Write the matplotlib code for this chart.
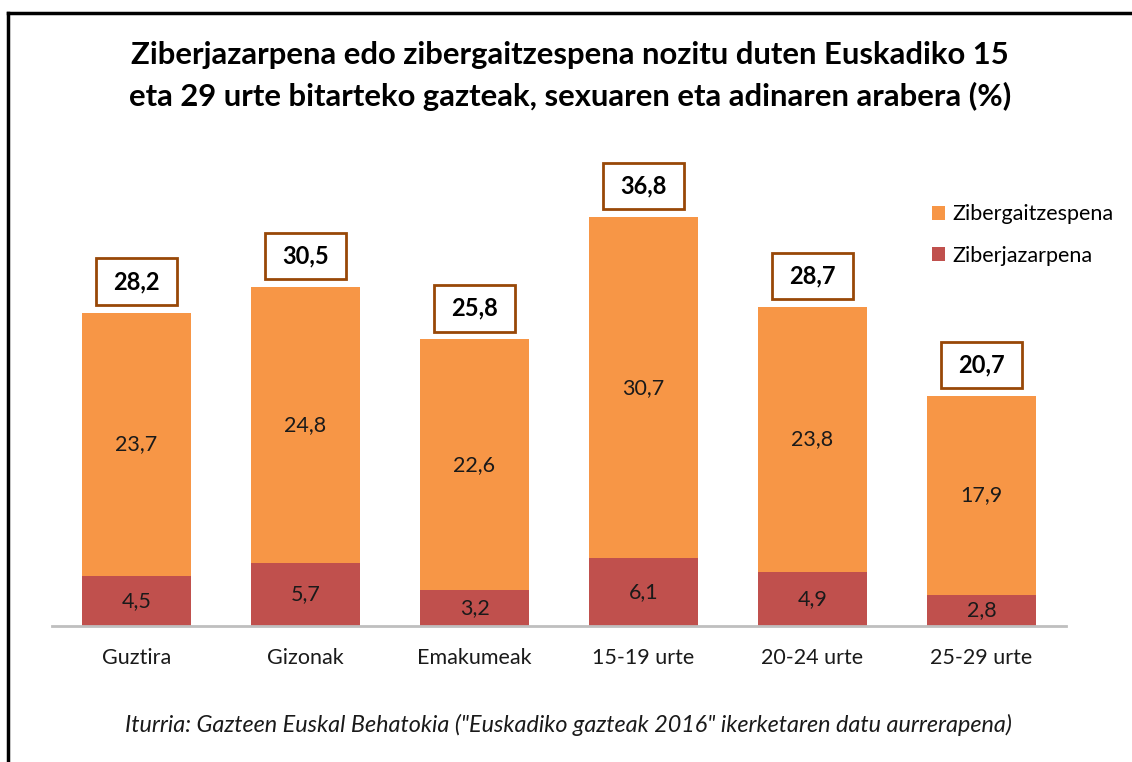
import matplotlib
matplotlib.use("Agg")
import matplotlib.pyplot as plt
from matplotlib.patches import Rectangle
from matplotlib.lines import Line2D
import numpy as np

plt.rcParams["font.family"] = ["Lato", "DejaVu Sans"]

categories = ["Guztira", "Gizonak", "Emakumeak", "15-19 urte", "20-24 urte", "25-29 urte"]
ziberjazarpena = [4.5, 5.7, 3.2, 6.1, 4.9, 2.8]
zibergaitzespena = [23.7, 24.8, 22.6, 30.7, 23.8, 17.9]
totals = [28.2, 30.5, 25.8, 36.8, 28.7, 20.7]

orange = "#F79646"
red = "#C0504D"
box_edge = "#984807"

def fmt(v):
    return f"{v:.1f}".replace(".", ",")

fig = plt.figure(figsize=(11.32, 7.62), dpi=100)
ax = fig.add_axes([52 / 1132, 136 / 762, 1014 / 1132, 466.7 / 762])

x = np.arange(len(categories))
w = 0.645
b1 = ax.bar(x, ziberjazarpena, w, color=red, label="Ziberjazarpena")
b2 = ax.bar(x, zibergaitzespena, w, bottom=ziberjazarpena, color=orange, label="Zibergaitzespena")

for i in range(len(categories)):
    ax.text(x[i], ziberjazarpena[i] / 2, fmt(ziberjazarpena[i]), ha="center", va="center",
            fontsize=15.5, color="#1a1a1a")
    ax.text(x[i], ziberjazarpena[i] + zibergaitzespena[i] / 2, fmt(zibergaitzespena[i]),
            ha="center", va="center", fontsize=15.5, color="#1a1a1a")
    # boxed total above each stack
    cy = totals[i] + 2.8
    ax.add_patch(Rectangle((x[i] - 0.24, cy - 2.1), 0.48, 4.2, facecolor="white",
                           edgecolor=box_edge, linewidth=2, clip_on=False))
    ax.text(x[i], cy, fmt(totals[i]), ha="center", va="center", fontsize=17,
            fontweight="bold", color="black")

ax.set_xlim(-0.5, len(categories) - 0.5)
ax.set_ylim(0, 42)
ax.set_yticks([])
ax.set_xticks(x)
ax.set_xticklabels(categories, fontsize=15.5, color="#1a1a1a")
ax.tick_params(axis="x", length=0, pad=16)
for s in ["top", "right", "left"]:
    ax.spines[s].set_visible(False)
ax.spines["bottom"].set_color("#BFBFBF")
ax.spines["bottom"].set_linewidth(2)

fig.legend(handles=[b2, b1], labels=["Zibergaitzespena", "Ziberjazarpena"],
           loc="upper left", bbox_to_anchor=(913 / 1132, 1 - 185 / 762),
           frameon=False, fontsize=15.5, handlelength=0.6, handleheight=0.6,
           handletextpad=0.35, labelspacing=1.0)

fig.text(0.5035, 1 - 76 / 762,
         "Ziberjazarpena edo zibergaitzespena nozitu duten Euskadiko 15\n"
         "eta 29 urte bitarteko gazteak, sexuaren eta adinaren arabera (%)",
         ha="center", va="center", fontsize=22.3, fontweight="bold",
         linespacing=1.52, color="black")

fig.text(0.502, 1 - 725 / 762,
         "Iturria: Gazteen Euskal Behatokia (\"Euskadiko gazteak 2016\" ikerketaren datu aurrerapena)",
         ha="center", va="center", fontsize=16.8, style="italic", color="#1a1a1a")

# chart area border (top and left edges)
fig.add_artist(Line2D([8 / 1132, 1], [1 - 13 / 762, 1 - 13 / 762], color="black", linewidth=2.5))
fig.add_artist(Line2D([8 / 1132, 8 / 1132], [0, 1 - 13 / 762], color="black", linewidth=2.5))

fig.savefig("out.png", dpi=100)
